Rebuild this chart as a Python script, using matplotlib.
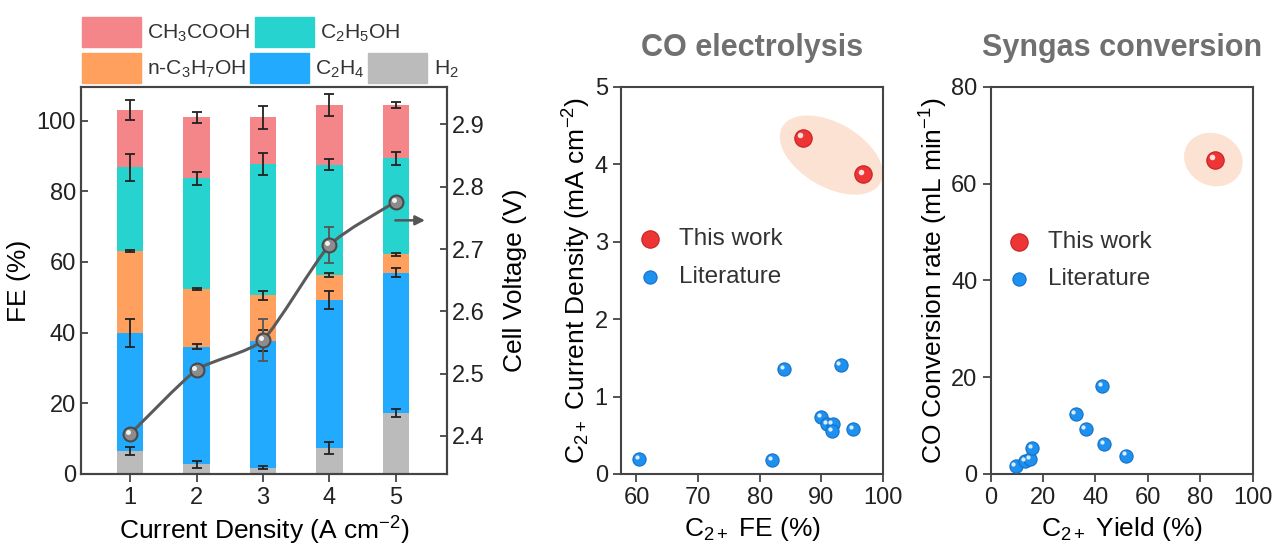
import numpy as np
import matplotlib
matplotlib.use("Agg")
import matplotlib.pyplot as plt
from matplotlib.patches import Rectangle, Ellipse
from matplotlib.path import Path
from matplotlib.patches import PathPatch
from matplotlib.transforms import ScaledTranslation

plt.rcParams['font.family'] = ['Liberation Sans', 'DejaVu Sans']
plt.rcParams['mathtext.fontset'] = 'custom'
plt.rcParams['mathtext.rm'] = 'Liberation Sans'
plt.rcParams['mathtext.it'] = 'Liberation Sans:italic'
plt.rcParams['mathtext.bf'] = 'Liberation Sans:bold'

# ---------------- data ----------------
current_density = [1, 2, 3, 4, 5]
products = ['H$_2$', 'C$_2$H$_4$', 'n-C$_3$H$_7$OH', 'C$_2$H$_5$OH', 'CH$_3$COOH']
fe_h2 = [6.5, 2.7, 1.8, 7.4, 17.2]
fe_c2h4 = [33.3, 33.3, 35.9, 41.9, 39.8]
fe_c3h7oh = [23.2, 16.3, 12.9, 7.0, 5.1]
fe_c2h5oh = [23.8, 31.4, 37.1, 31.2, 27.2]
fe_ch3cooh = [16.2, 17.2, 13.2, 16.9, 15.1]
err_h2 = [1.0, 1.0, 0.4, 1.7, 1.1]
err_c2h4 = [4.0, 0.7, 3.0, 2.5, 1.3]
err_c3h7oh = [0.3, 0.3, 1.3, 0.7, 0.3]
err_c2h5oh = [3.8, 1.8, 3.0, 1.5, 1.9]
err_ch3cooh = [2.9, 1.5, 3.2, 3.1, 0.9]
cell_voltage = [2.403, 2.506, 2.554, 2.706, 2.776]
err_voltage = [0.004, 0.004, 0.033, 0.029, 0.004]

fe_this_x = [87.0, 96.8]
fe_this_y = [4.34, 3.87]
fe_lit_x = [60.4, 82.0, 84.0, 93.1, 90.0, 90.9, 91.8, 91.7, 95.1]
fe_lit_y = [0.19, 0.185, 1.35, 1.41, 0.74, 0.65, 0.65, 0.55, 0.58]

yield_this_x = [85.7]
yield_this_y = [65.0]
yield_lit_x = [9.5, 13.1, 15.0, 15.9, 32.4, 36.2, 42.6, 43.4, 51.5]
yield_lit_y = [1.7, 2.6, 3.1, 5.4, 12.3, 9.2, 18.1, 6.2, 3.8]

# ---------------- style ----------------
colors = ['#BBBBBB', '#22AAFF', '#FFA05E', '#26D3CF', '#F4868A']
spine_c = '#444444'
TICK = 17
LAB = 19

fig = plt.figure(figsize=(12.75, 5.47), dpi=100)
ax1 = fig.add_axes([0.0635, 0.1335, 0.2871, 0.7075])
ax2 = ax1.twinx()
axm = fig.add_axes([0.4871, 0.1335, 0.2055, 0.7075])
axr = fig.add_axes([0.777, 0.1335, 0.2055, 0.7075])

for a in (ax1, ax2, axm, axr):
    for s in a.spines.values():
        s.set_color(spine_c)
        s.set_linewidth(1.5)

# ---------------- left: stacked bars ----------------
series = [fe_h2, fe_c2h4, fe_c3h7oh, fe_c2h5oh, fe_ch3cooh]
errs = [err_h2, err_c2h4, err_c3h7oh, err_c2h5oh, err_ch3cooh]
bottom = np.zeros(len(current_density))
for vals, er, col in zip(series, errs, colors):
    vals = np.array(vals)
    ax1.bar(current_density, vals, width=0.4, bottom=bottom, color=col, zorder=2)
    top = bottom + vals
    ax1.errorbar(current_density, top, yerr=er, fmt='none', ecolor='#222222',
                 elinewidth=1.3, capsize=3.5, capthick=1.3, zorder=3)
    bottom = top

ax1.set_xlim(0.26, 5.77)
ax1.set_ylim(0, 109.5)
ax1.set_yticks([0, 20, 40, 60, 80, 100])
ax1.set_xticks(current_density)
ax1.tick_params(axis='y', direction='in', length=5, width=1.3, labelsize=TICK, colors=spine_c, labelcolor='#222222')
ax1.tick_params(axis='x', direction='out', length=6, width=1.3, labelsize=TICK, colors=spine_c, labelcolor='#222222')
ax1.set_ylabel('FE (%)', fontsize=LAB, labelpad=4)
ax1.set_xlabel('Current Density (A cm$^{-2}$)', fontsize=LAB, labelpad=4)

# voltage (smooth curve through points, low tension)
xv = np.array(current_density, float)
yv = np.array(cell_voltage, float)
P = np.column_stack([xv, yv])
Pp = np.vstack([P[0], P, P[-1]])
verts = [tuple(P[0])]
codes = [Path.MOVETO]
k = 10.0
for i in range(len(P) - 1):
    p0, p1, p2, p3 = Pp[i], Pp[i + 1], Pp[i + 2], Pp[i + 3]
    c1 = p1 + (p2 - p0) / k
    c2 = p2 - (p3 - p1) / k
    verts += [tuple(c1), tuple(c2), tuple(p2)]
    codes += [Path.CURVE4] * 3
ax2.add_patch(PathPatch(Path(verts, codes), fill=False, edgecolor='#5a5a5a', lw=2.2, zorder=4))
ax2.errorbar(current_density, cell_voltage, yerr=err_voltage, fmt='none', ecolor='#555555',
             elinewidth=1.3, capsize=3.5, capthick=1.3, zorder=5)
ax2.plot(current_density, cell_voltage, 'o', ms=10, mfc='#8c8c8c', mec='#4a4a4a', mew=1.5, zorder=6)
hl = ax2.transData + ScaledTranslation(-1.5 / 72, 1.5 / 72, fig.dpi_scale_trans)
ax2.plot(current_density, cell_voltage, 'o', ms=3.6, mfc='#f0f0f0', mec='none', zorder=7, transform=hl)
ax2.annotate('', xy=(5.48, 2.746), xytext=(4.95, 2.746),
             arrowprops=dict(arrowstyle='-|>', color='#555555', lw=1.8, mutation_scale=14), zorder=8)
ax2.set_ylim(2.339, 2.96)
ax2.set_yticks([2.4, 2.5, 2.6, 2.7, 2.8, 2.9])
ax2.set_yticklabels(['2.4', '2.5', '2.6', '2.7', '2.8', '2.9'])
ax2.tick_params(axis='y', direction='in', length=5, width=1.3, labelsize=TICK, colors=spine_c, labelcolor='#222222')
ax2.set_ylabel('Cell Voltage (V)', fontsize=LAB, labelpad=13)

# legend for bars (manual, above the left axes)
leg_items = [(products[4], colors[4], 82, 17, 147),
             (products[3], colors[3], 255, 17, 320),
             (products[2], colors[2], 82, 53, 147),
             (products[1], colors[1], 250, 53, 315),
             (products[0], colors[0], 368, 53, 434)]
W, H = 1275.0, 547.0
for lab, col, px, py, tx in leg_items:
    fig.patches.append(Rectangle((px / W, 1 - (py + 30) / H), 59 / W, 30 / H,
                                 transform=fig.transFigure, color=col, zorder=1))
    fig.text(tx / W, 1 - (py + 16) / H, lab, fontsize=15.2, va='center', ha='left', color='#333333')

# ---------------- sphere-like scatter helper ----------------
def spheres(ax, x, y, ms, base, edge, z=5):
    ax.plot(x, y, 'o', ms=ms, mfc=base, mec=edge, mew=0.8, zorder=z, clip_on=False)
    t = ax.transData + ScaledTranslation(-ms * 0.16 / 72, ms * 0.16 / 72, fig.dpi_scale_trans)
    ax.plot(x, y, 'o', ms=ms * 0.32, mfc='white', mec='none', alpha=0.85, zorder=z + 1,
            transform=t, clip_on=False)

# ---------------- middle: CO electrolysis ----------------
ell = Ellipse((0, 0), width=1.13, height=0.64, angle=-30, facecolor='#FBE2D2', edgecolor='none',
              transform=fig.dpi_scale_trans + ScaledTranslation(91.6, 4.12, axm.transData), zorder=1)
axm.add_patch(ell)
spheres(axm, fe_this_x, fe_this_y, 12.5, '#EE3535', '#C82020')
spheres(axm, fe_lit_x, fe_lit_y, 9.5, '#1E90F0', '#1570C8')
axm.set_xlim(57.5, 100)
axm.set_ylim(0, 5)
axm.set_xticks([60, 70, 80, 90, 100])
axm.set_yticks([0, 1, 2, 3, 4, 5])
axm.tick_params(direction='out', length=6, width=1.3, labelsize=TICK, colors=spine_c, labelcolor='#222222')
axm.set_xlabel('C$_{2+}$ FE (%)', fontsize=LAB, labelpad=4)
axm.set_ylabel('C$_{2+}$ Current Density (mA cm$^{-2}$)', fontsize=LAB, labelpad=1)
axm.set_title('CO electrolysis', fontsize=22, fontweight='bold', color='#707070', pad=22)
# legend
axm.plot([0.11], [0.606], 'o', transform=axm.transAxes, ms=12.5, mfc='#EE3535', mec='#C82020', mew=0.8)
axm.plot([0.11], [0.51], 'o', transform=axm.transAxes, ms=9.5, mfc='#1E90F0', mec='#1570C8', mew=0.8)
axm.text(0.22, 0.606, 'This work', transform=axm.transAxes, fontsize=17.5, va='center', color='#333333')
axm.text(0.22, 0.51, 'Literature', transform=axm.transAxes, fontsize=17.5, va='center', color='#333333')

# ---------------- right: syngas conversion ----------------
ell2 = Ellipse((0, 0), width=0.6, height=0.52, angle=-25, facecolor='#FBE2D2', edgecolor='none',
               transform=fig.dpi_scale_trans + ScaledTranslation(85.0, 65.0, axr.transData), zorder=1)
axr.add_patch(ell2)
spheres(axr, yield_this_x, yield_this_y, 12.5, '#EE3535', '#C82020')
spheres(axr, yield_lit_x, yield_lit_y, 9.5, '#1E90F0', '#1570C8')
axr.set_xlim(0, 100)
axr.set_ylim(0, 80)
axr.set_xticks([0, 20, 40, 60, 80, 100])
axr.set_yticks([0, 20, 40, 60, 80])
axr.tick_params(direction='out', length=6, width=1.3, labelsize=TICK, colors=spine_c, labelcolor='#222222')
axr.set_xlabel('C$_{2+}$ Yield (%)', fontsize=LAB, labelpad=4)
axr.set_ylabel('CO Conversion rate (mL min$^{-1}$)', fontsize=LAB, labelpad=1)
axr.set_title('Syngas conversion', fontsize=22, fontweight='bold', color='#707070', pad=22)
axr.plot([0.11], [0.599], 'o', transform=axr.transAxes, ms=12.5, mfc='#EE3535', mec='#C82020', mew=0.8)
axr.plot([0.11], [0.503], 'o', transform=axr.transAxes, ms=9.5, mfc='#1E90F0', mec='#1570C8', mew=0.8)
axr.text(0.22, 0.599, 'This work', transform=axr.transAxes, fontsize=17.5, va='center', color='#333333')
axr.text(0.22, 0.503, 'Literature', transform=axr.transAxes, fontsize=17.5, va='center', color='#333333')

fig.savefig('out.png', dpi=100)
